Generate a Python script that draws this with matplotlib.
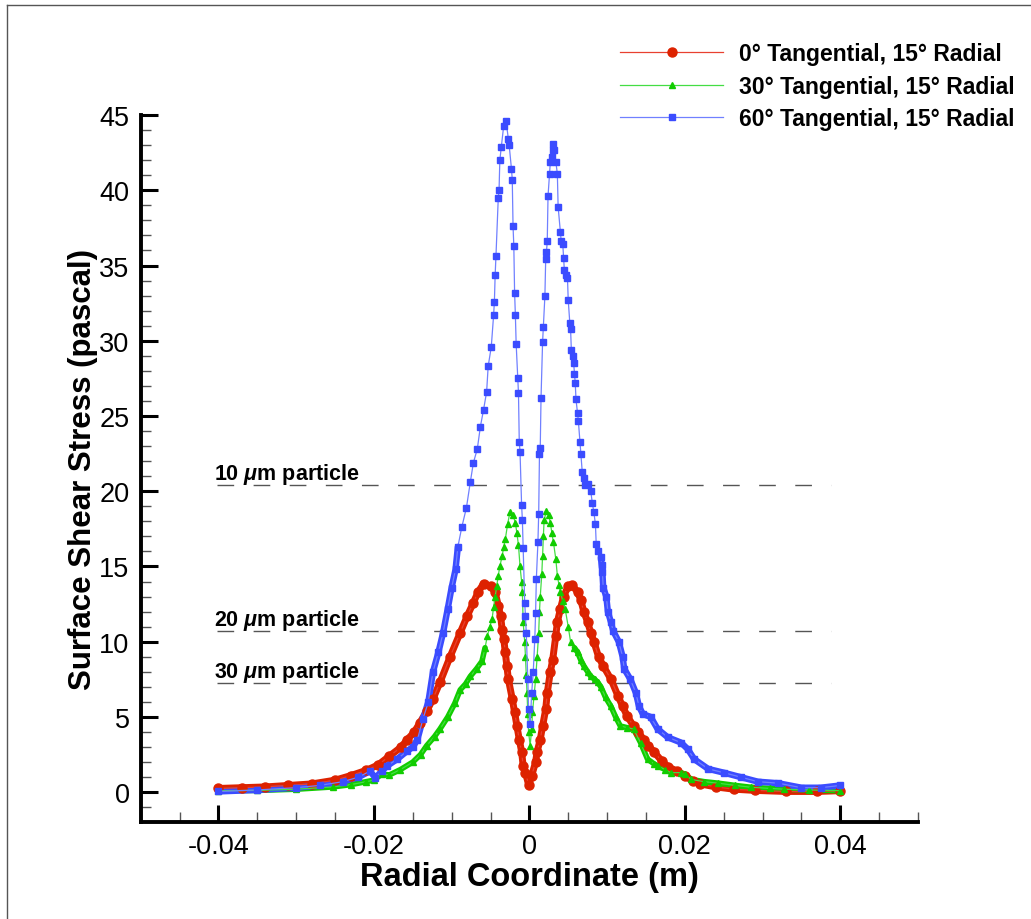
import numpy as np
import matplotlib
matplotlib.use("Agg")
import matplotlib.pyplot as plt
from matplotlib.lines import Line2D
from matplotlib.ticker import MultipleLocator, FuncFormatter

# surface shear stress vs radial coordinate
x_red = [-0.0400, -0.0370, -0.0340, -0.0310, -0.0280, -0.0250, -0.0230, -0.0210, -0.0195, -0.0180,
         -0.0165, -0.0157, -0.0148, -0.0141, -0.0132, -0.0124, -0.0115, -0.0102, -0.0089, -0.0080,
         -0.0072, -0.0066, -0.0059, -0.0050, -0.0044, -0.0040, -0.0037, -0.0035, -0.0033, -0.0031,
         -0.0029, -0.0027, -0.0022, -0.0019, -0.0016, -0.0013, -0.0010, -0.0008, -0.0005, -0.0001,
         0.0003, 0.0008, 0.0010, 0.0014, 0.0017, 0.0021, 0.0023, 0.0027, 0.0030, 0.0034,
         0.0036, 0.0040, 0.0044, 0.0050, 0.0055, 0.0062, 0.0066, 0.0070, 0.0075, 0.0079,
         0.0083, 0.0089, 0.0095, 0.0105, 0.0114, 0.0120, 0.0126, 0.0134, 0.0140, 0.0147,
         0.0153, 0.0160, 0.0170, 0.0178, 0.0190, 0.0200, 0.0210, 0.0220, 0.0240, 0.0263,
         0.0290, 0.0330, 0.0370, 0.0400]
y_red = [0.25, 0.30, 0.35, 0.45, 0.55, 0.80, 1.10, 1.45, 1.80, 2.40,
         3.00, 3.50, 4.00, 4.60, 5.40, 6.20, 7.30, 9.00, 10.60, 11.70,
         12.60, 13.30, 13.85, 13.70, 13.30, 12.40, 11.70, 10.80, 10.20, 9.30,
         8.40, 7.50, 6.20, 5.30, 4.40, 3.50, 2.70, 1.75, 1.30, 0.50,
         1.10, 2.00, 2.70, 3.50, 4.40, 5.50, 6.60, 8.00, 8.80, 10.40,
         11.30, 12.20, 13.00, 13.70, 13.75, 13.30, 12.80, 12.00, 11.30, 10.60,
         10.00, 9.00, 8.40, 7.50, 6.40, 5.70, 5.05, 4.40, 4.00, 3.50,
         3.10, 2.70, 2.10, 1.70, 1.40, 1.10, 0.75, 0.55, 0.35, 0.20,
         0.12, 0.05, 0.05, 0.10]

x_green = [-0.0400, -0.0350, -0.0300, -0.0253, -0.0230, -0.0210, -0.0200, -0.0190, -0.0180, -0.0166,
           -0.0150, -0.0140, -0.0132, -0.0122, -0.0115, -0.0105, -0.0096, -0.0089, -0.0082, -0.0076,
           -0.0068, -0.0061, -0.0057, -0.0054, -0.0051, -0.0048, -0.0046, -0.0044, -0.0042, -0.0040,
           -0.0038, -0.0035, -0.0033, -0.0031, -0.0028, -0.0025, -0.0021, -0.0018, -0.0016, -0.0014,
           -0.0012, -0.0010, -0.0009, -0.0008, -0.0006, -0.0005, -0.0004, -0.0003, -0.0002, -0.0001,
           0.0001, 0.0003, 0.0004, 0.0006, 0.0008, 0.0010, 0.0012, 0.0013, 0.0014, 0.0016,
           0.0017, 0.0018, 0.0019, 0.0022, 0.0025, 0.0027, 0.0029, 0.0031, 0.0034, 0.0036,
           0.0038, 0.0040, 0.0043, 0.0046, 0.0050, 0.0053, 0.0058, 0.0062, 0.0066, 0.0070,
           0.0075, 0.0079, 0.0084, 0.0088, 0.0092, 0.0098, 0.0105, 0.0111, 0.0117, 0.0125,
           0.0134, 0.0143, 0.0152, 0.0160, 0.0165, 0.0175, 0.0182, 0.0195, 0.0200, 0.0208,
           0.0225, 0.0243, 0.0265, 0.0285, 0.0310, 0.0328, 0.0360, 0.0400]
y_green = [0.10, 0.12, 0.20, 0.35, 0.50, 0.70, 0.80, 1.20, 1.15, 1.50,
           2.00, 2.50, 3.10, 3.70, 4.20, 5.00, 5.90, 6.80, 7.20, 7.70,
           8.20, 8.70, 9.60, 10.40, 11.00, 11.50, 12.30, 13.00, 13.70, 14.40,
           15.00, 15.70, 16.30, 16.80, 17.80, 18.60, 18.40, 17.90, 17.20, 16.40,
           15.00, 14.00, 13.30, 11.30, 10.00, 9.00, 7.80, 6.60, 5.20, 4.00,
           3.10, 4.20, 5.30, 6.40, 7.50, 9.00, 10.60, 12.00, 13.00, 14.50,
           15.70, 17.00, 18.10, 18.70, 18.40, 17.90, 17.20, 16.60, 15.50, 14.40,
           13.80, 13.30, 12.70, 12.20, 11.00, 10.00, 9.60, 9.30, 8.80, 8.40,
           8.00, 7.70, 7.50, 7.30, 7.00, 6.30, 5.70, 5.00, 4.40, 4.30,
           4.20, 3.30, 2.20, 1.90, 1.75, 1.50, 1.30, 1.30, 1.20, 0.85,
           0.70, 0.60, 0.45, 0.33, 0.25, 0.20, 0.15, 0.10]

x_blue = [-0.0400, -0.0350, -0.0300, -0.0270, -0.0240, -0.0220, -0.0205, -0.0198, -0.0190, -0.0183,
          -0.0170, -0.0157, -0.0150, -0.0144, -0.0137, -0.0130, -0.0124, -0.0117, -0.0111, -0.0105,
          -0.0100, -0.0095, -0.0092, -0.0087, -0.0081, -0.0076, -0.0072, -0.0067, -0.0063, -0.0059,
          -0.0055, -0.0053, -0.0049, -0.0046, -0.0045, -0.0044, -0.0043, -0.0040, -0.0039, -0.0038,
          -0.0036, -0.0033, -0.0030, -0.0027, -0.0026, -0.0023, -0.0022, -0.0021, -0.0020, -0.0019,
          -0.0018, -0.0017, -0.0015, -0.0014, -0.0013, -0.0012, -0.0010, -0.0009, -0.0008, -0.0006,
          -0.0005, -0.0004, -0.0002, -0.0001, 0.0001, 0.0003, 0.0005, 0.0007, 0.0008, 0.0009,
          0.0011, 0.0012, 0.0013, 0.0014, 0.0015, 0.0017, 0.0018, 0.0020, 0.0021, 0.0022,
          0.0023, 0.0024, 0.0026, 0.0027, 0.0029, 0.0030, 0.0031, 0.0032, 0.0034, 0.0036,
          0.0037, 0.0040, 0.0041, 0.0043, 0.0044, 0.0045, 0.0047, 0.0049, 0.0050, 0.0052,
          0.0053, 0.0054, 0.0056, 0.0057, 0.0058, 0.0059, 0.0060, 0.0062, 0.0063, 0.0065,
          0.0066, 0.0068, 0.0070, 0.0072, 0.0076, 0.0079, 0.0081, 0.0083, 0.0085, 0.0086,
          0.0088, 0.0092, 0.0093, 0.0094, 0.0095, 0.0099, 0.0101, 0.0105, 0.0108, 0.0115,
          0.0120, 0.0122, 0.0130, 0.0137, 0.0141, 0.0146, 0.0156, 0.0165, 0.0178, 0.0195,
          0.0204, 0.0212, 0.0230, 0.0250, 0.0272, 0.0294, 0.0320, 0.0350, 0.0375, 0.0400]
y_blue = [0.05, 0.15, 0.30, 0.45, 0.70, 1.00, 1.40, 0.95, 1.40, 1.75,
          2.20, 2.75, 3.00, 3.50, 4.85, 6.00, 8.00, 9.30, 10.60, 12.20,
          13.60, 14.80, 16.30, 17.60, 18.90, 20.60, 21.90, 22.80, 24.30, 25.40,
          26.60, 28.30, 29.60, 31.70, 32.60, 34.40, 35.60, 39.50, 40.00, 42.00,
          42.90, 44.30, 44.60, 43.40, 43.00, 41.40, 40.70, 37.60, 36.30, 33.20,
          31.70, 29.80, 27.50, 26.50, 23.30, 22.60, 19.10, 18.10, 16.20, 12.60,
          11.70, 10.60, 7.50, 5.50, 4.50, 6.60, 8.00, 10.20, 11.90, 14.20,
          16.60, 18.50, 22.50, 22.90, 26.20, 29.90, 30.90, 33.00, 35.40, 35.90,
          36.60, 39.60, 41.10, 41.90, 42.20, 42.70, 43.10, 42.70, 41.90, 41.10,
          38.90, 37.20, 36.60, 36.40, 35.50, 34.70, 34.40, 34.20, 32.70, 31.20,
          30.80, 29.40, 29.00, 28.50, 27.80, 27.20, 26.10, 25.20, 24.70, 23.30,
          22.50, 21.30, 20.90, 20.40, 20.50, 20.00, 19.20, 18.60, 17.80, 16.50,
          16.00, 15.60, 15.10, 14.60, 13.60, 13.00, 12.00, 11.30, 10.70, 10.00,
          9.00, 8.20, 7.50, 6.60, 5.70, 5.20, 5.00, 4.20, 3.65, 3.30,
          2.85, 2.20, 1.55, 1.30, 1.00, 0.70, 0.60, 0.30, 0.30, 0.45]

series_labels = ["0° Tangential, 15° Radial",
                 "30° Tangential, 15° Radial",
                 "60° Tangential, 15° Radial"]

# critical shear stress for particle removal
particle_size = [10, 20, 30]
particle_stress = [20.4, 10.7, 7.25]
particle_x = [-0.0402, 0.0388]

plt.rcParams["font.family"] = ["Liberation Sans", "DejaVu Sans"]
plt.rcParams["axes.unicode_minus"] = False
plt.rcParams["mathtext.fontset"] = "custom"
plt.rcParams["mathtext.it"] = "Liberation Sans:italic:bold"
plt.rcParams["mathtext.rm"] = "Liberation Sans:bold"

fig = plt.figure(figsize=(10.31, 9.2), dpi=100)
ax = fig.add_axes([0.1365, 0.1051, 0.7539, 0.7688])

styles = [
    (x_red, y_red, "#dd2200", "#e84030", "o", 6.5, 5.0, 0.0),
    (x_green, y_green, "#11cc00", "#44dd44", "^", 4.8, 4.0, 0.0055),
    (x_blue, y_blue, "#3b4cff", "#7080ff", "s", 5.0, 4.6, 0.0092),
]
for (xs, ys, mc, lc, mk, ms, band, cut), lab in zip(styles, series_labels):
    xs = np.array(xs)
    ys = np.array(ys)
    # dense tails read as a thick band in the original
    tail = np.where(np.abs(xs) >= cut, ys, np.nan)
    ax.plot(xs, tail, color=mc, lw=band, solid_capstyle="round", zorder=2)
    ax.plot(xs, ys, color=lc, lw=0.9, marker=mk, ms=ms, mfc=mc, mec=mc,
            label=lab, zorder=3)

for size, tau in zip(particle_size, particle_stress):
    ax.hlines(tau, particle_x[0], particle_x[1], colors="#555555", lw=1.0,
              linestyles=(0, (12, 14)), zorder=1)
    ax.text(particle_x[0] - 0.0004, tau + 0.42, f"{size} $\\mu$m particle",
            fontsize=15.5, fontweight="bold", va="baseline", ha="left")

ax.set_xlim(-0.05, 0.05)
ax.set_ylim(-2.0, 45)
ax.xaxis.set_major_locator(MultipleLocator(0.02))
ax.xaxis.set_minor_locator(MultipleLocator(0.005))
ax.yaxis.set_major_locator(MultipleLocator(5))
ax.yaxis.set_minor_locator(MultipleLocator(1))
ax.xaxis.set_major_formatter(FuncFormatter(lambda v, p: "0" if abs(v) < 1e-9 else f"{v:.2f}"))

for side in ["top", "right"]:
    ax.spines[side].set_visible(False)
for side in ["left", "bottom"]:
    ax.spines[side].set_linewidth(2.8)
ax.tick_params(which="major", direction="in", length=12.5, width=2.2, labelsize=19.5, pad=8)
ax.tick_params(which="minor", direction="in", length=7.5, width=1.0, color="#555555")

ax.set_xlabel("Radial Coordinate (m)", fontsize=23.5, fontweight="bold", labelpad=1)
ax.set_ylabel("Surface Shear Stress (pascal)", fontsize=22.5, fontweight="bold", labelpad=1)

fig.legend(loc="upper left", bbox_to_anchor=(0.6014, 0.9533), frameon=False,
           borderpad=0, borderaxespad=0, handlelength=4.5, handletextpad=0.7,
           labelspacing=0.42, numpoints=1,
           prop={"size": 16.5, "weight": "bold"})

# thin frame round the picture (only top and left are visible)
fx, fy = 7 / 1031, 1 - 6 / 920
fig.add_artist(Line2D([fx, fx], [0, fy], transform=fig.transFigure, color="#555555", lw=1))
fig.add_artist(Line2D([fx, 1], [fy, fy], transform=fig.transFigure, color="#555555", lw=1))

fig.savefig("out.png", dpi=100)
plt.close(fig)
